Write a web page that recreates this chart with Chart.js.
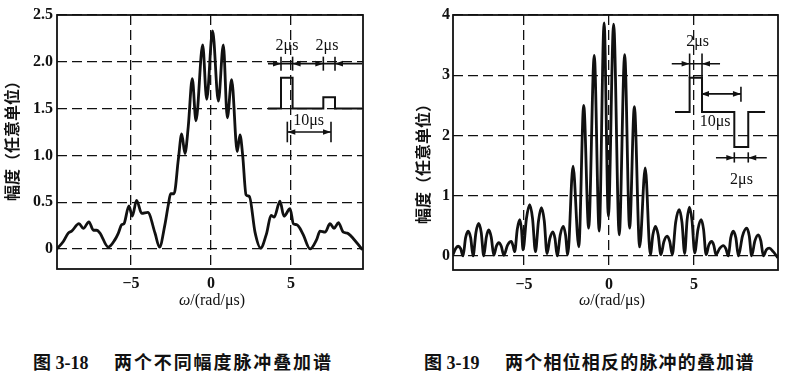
<!DOCTYPE html>
<html><head><meta charset="utf-8">
<script src="https://cdn.jsdelivr.net/npm/chart.js@4/dist/chart.umd.min.js"></script>
<style>
html,body{margin:0;padding:0;background:#fff;}
#wrap{position:relative;width:800px;height:381px;overflow:hidden;background:#fff;}
.box{position:absolute;top:0;width:400px;height:320px;}
.ytitle{position:absolute;font-family:"Noto Sans CJK SC";font-weight:bold;font-size:16px;white-space:nowrap;transform:translate(-50%,-50%) rotate(-90deg);color:#111;line-height:1;}
.xtitle{position:absolute;font-family:"Liberation Serif";font-size:16px;transform:translate(-50%,-50%);white-space:nowrap;color:#111;line-height:1;}
.cap{position:absolute;font-family:"Liberation Serif","Noto Sans CJK SC";font-weight:bold;font-size:18px;white-space:nowrap;transform:translateY(-50%);color:#111;line-height:1;}
</style></head>
<body>
<div id="wrap">
  <div class="box" style="left:0"><canvas id="cA" width="400" height="320"></canvas></div>
  <div class="box" style="left:400px"><canvas id="cB" width="400" height="320"></canvas></div>
  <div class="ytitle" style="left:11px;top:137px">幅度（任意单位）</div>
  <div class="ytitle" style="left:422px;top:160px">幅度（任意单位）</div>
  <div class="xtitle" style="left:212px;top:300px"><i>ω</i>/(rad/μs)</div>
  <div class="xtitle" style="left:612px;top:300px"><i>ω</i>/(rad/μs)</div>
  <div class="cap" style="left:33px;top:363px">图 3-18</div>
  <div class="cap" style="left:114px;top:363px;letter-spacing:1.9px">两个不同幅度脉冲叠加谱</div>
  <div class="cap" style="left:424px;top:363px">图 3-19</div>
  <div class="cap" style="left:505px;top:363px;letter-spacing:1.2px">两个相位相反的脉冲的叠加谱</div>
</div>
<script>
// ---- Fig 3-18: two pulses of different amplitude ----
const omegaA = [-9.64,-9.23,-8.92,-8.71,-8.25,-7.98,-7.63,-7.35,-7.15,-6.94,-6.42,-6.0,-5.79,-5.58,-5.44,-5.13,-4.92,-4.65,-4.33,-3.95,-3.5,-3.22,-2.88,-2.67,-2.52,-2.31,-2.04,-1.83,-1.63,-1.42,-1.17,-0.94,-0.52,-0.27,0.1,0.46,0.77,1.02,1.29,1.64,1.81,1.98,2.19,2.4,2.75,3.1,3.48,3.75,3.95,4.31,4.56,4.94,5.15,5.35,5.56,5.77,6.19,6.6,6.81,7.13,7.44,7.69,7.96,8.27,8.52,8.9,9.42];
const ampA   = [0.0,0.08,0.17,0.19,0.27,0.22,0.29,0.2,0.2,0.17,0.02,0.1,0.17,0.26,0.27,0.46,0.35,0.52,0.38,0.39,0.17,0.02,0.26,0.47,0.59,0.59,0.96,1.23,1.02,1.31,1.82,1.37,2.18,1.60,2.33,1.58,2.18,1.40,1.81,1.04,1.22,1.0,0.58,0.56,0.18,0.01,0.17,0.36,0.34,0.51,0.35,0.43,0.27,0.26,0.22,0.15,0.0,0.1,0.19,0.18,0.27,0.22,0.28,0.18,0.17,0.11,0.0];
const yTicksA = [0,0.5,1,1.5,2,2.5];
const yLabelsA = ['0','0.5','1.0','1.5','2.0','2.5'];

// ---- Fig 3-19: two pulses of opposite phase ----
const omegaB = [-9.18,-9.03,-8.88,-8.73,-8.59,-8.44,-8.29,-8.14,-8.0,-7.83,-7.67,-7.52,-7.37,-7.22,-7.08,-6.93,-6.78,-6.63,-6.49,-6.34,-6.19,-5.97,-5.75,-5.65,-5.55,-5.40,-5.25,-5.15,-5.06,-4.86,-4.67,-4.50,-4.33,-4.15,-3.98,-3.81,-3.65,-3.48,-3.31,-3.18,-3.05,-2.87,-2.69,-2.56,-2.43,
  -2.12,-1.78,-1.49,-1.2,-0.87,-0.58,-0.29,-0.04,0.27,0.6,0.92,1.21,1.49,1.8,2.13,
  2.43,2.58,2.73,2.89,3.05,3.23,3.42,3.57,3.72,3.92,4.13,4.29,4.45,4.59,4.73,4.88,5.04,5.23,5.42,5.56,5.71,5.87,6.04,6.16,6.29,6.5,6.72,6.87,7.02,7.16,7.31,7.46,7.61,7.85,8.1,8.25,8.39,8.58,8.78,8.93,9.08,9.25,9.43,9.66,9.9];
const ampB   = [0.02,0.12,0.16,0.12,0.0,0.30,0.41,0.30,0.0,0.39,0.54,0.39,0.0,0.31,0.43,0.31,0.01,0.16,0.22,0.16,0.01,0.18,0.24,0.17,0.07,0.44,0.6,0.44,0.1,0.62,0.85,0.62,0.07,0.58,0.8,0.58,0.04,0.29,0.4,0.29,0.0,0.35,0.49,0.35,0.02,
  1.49,0.15,2.5,0.46,3.33,0.41,3.87,0.66,3.85,0.35,3.34,0.46,2.48,0.15,1.46,
  0.02,0.35,0.49,0.35,0.02,0.24,0.33,0.24,0.02,0.56,0.77,0.56,0.04,0.59,0.81,0.59,0.05,0.44,0.6,0.44,0.02,0.18,0.24,0.18,0.02,0.12,0.17,0.12,0.0,0.30,0.41,0.30,0.0,0.33,0.46,0.33,0.0,0.25,0.35,0.25,0.0,0.10,0.13,0.07,-0.02];
const yTicksB = [0,1,2,3,4];
const yLabelsB = ['0','1','2','3','4'];

const xTicks = [-5,0,5];
const xLabels = ['\u22125','0','5'];

// ---- inset pulse sketches (in chart data units) ----
const insetA_pulseT = [3.56,4.375,4.375,5.1,5.1,7.02,7.02,7.75,7.75,9.44];
const insetA_pulseV = [1.5,1.5,1.83,1.83,1.5,1.5,1.62,1.62,1.5,1.5];
const insetA_dims = [
  {y:1.98, from:3.56, to:9.44, ticks:[4.375,5.1,7.02,7.75], lo:1.905, hi:2.055, heads:[[4.375,1],[5.1,-1],[7.02,1],[7.75,-1]]},
  {y:1.25, from:4.77, to:7.5, ticks:[4.77,7.5], lo:1.14, hi:1.36, heads:[[4.77,-1],[7.5,1]]}
];
const insetA_labels = [['2μs',4.75,2.17],['2μs',7.25,2.17],['10μs',6.1,1.37]];

const insetB_pulseT = [3.88,4.74,4.74,5.47,5.47,7.37,7.37,8.19,8.19,9.18];
const insetB_pulseV = [2.39,2.39,2.96,2.96,2.39,2.39,1.81,1.81,2.39,2.39];
const insetB_dims = [
  {y:3.19, from:3.69, to:6.53, ticks:[4.74,5.47], lo:2.96, hi:3.36, heads:[[4.74,1],[5.47,-1]]},
  {y:2.69, from:5.41, to:7.76, ticks:[7.76], lo:2.56, hi:2.81, heads:[[5.41,-1],[7.76,1]]},
  {y:1.63, from:6.29, to:9.28, ticks:[7.37,8.19], lo:1.55, hi:1.72, heads:[[7.37,1],[8.19,-1]]}
];
const insetB_labels = [['2μs',5.21,3.55],['10μs',6.24,2.22],['2μs',7.79,1.27]];

const INK = '#111';
const tickFont = {family:'"Liberation Serif"', size:16, weight:'bold'};

const framePlugin = {
  id:'frame',
  afterDatasetsDraw(c){
    const {ctx, chartArea:a} = c;
    ctx.save(); ctx.setLineDash([]); ctx.strokeStyle=INK; ctx.lineWidth=1.8;
    ctx.strokeRect(a.left, a.top, a.right-a.left, a.bottom-a.top);
    ctx.restore();
  }
};

function insetPlugin(pulseT, pulseV, dims, labels){
  return {
    id:'inset',
    afterDatasetsDraw(c){
      const ctx=c.ctx, sx=c.scales.x, sy=c.scales.y;
      const X=v=>sx.getPixelForValue(v), Y=v=>sy.getPixelForValue(v);
      ctx.save(); ctx.setLineDash([]); ctx.strokeStyle=INK; ctx.fillStyle=INK; ctx.lineWidth=2; ctx.lineJoin='miter';
      ctx.beginPath();
      pulseT.forEach((t,i)=>{ if(i===0) ctx.moveTo(X(t),Y(pulseV[i])); else ctx.lineTo(X(t),Y(pulseV[i])); });
      ctx.stroke();
      ctx.lineWidth=1.6;
      dims.forEach(d=>{
        ctx.beginPath(); ctx.moveTo(X(d.from),Y(d.y)); ctx.lineTo(X(d.to),Y(d.y)); ctx.stroke();
        d.ticks.forEach(t=>{ ctx.beginPath(); ctx.moveTo(X(t),Y(d.lo)); ctx.lineTo(X(t),Y(d.hi)); ctx.stroke(); });
        d.heads.forEach(([t,dir])=>{
          const px=X(t), py=Y(d.y);
          ctx.beginPath(); ctx.moveTo(px,py); ctx.lineTo(px-dir*8,py-2.8); ctx.lineTo(px-dir*8,py+2.8); ctx.closePath(); ctx.fill();
        });
      });
      ctx.font='16px "Liberation Serif"'; ctx.textAlign='center'; ctx.textBaseline='middle';
      labels.forEach(([s,x,y])=>{ ctx.fillText(s,X(x),Y(y)); });
      ctx.restore();
    }
  };
}

function makeChart(id, xs, ys, o){
  return new Chart(document.getElementById(id), {
    type:'line',
    data:{datasets:[{
      data: xs.map((x,i)=>({x:x, y:ys[i]})),
      borderColor:INK, borderWidth:2.8, pointRadius:0, fill:false,
      cubicInterpolationMode:'monotone', borderJoinStyle:'round', borderCapStyle:'round'
    }]},
    options:{
      responsive:false, animation:false, devicePixelRatio:1, events:[],
      layout:{padding:{top:15, right:o.padRight, left:0, bottom:0}},
      plugins:{legend:{display:false}, tooltip:{enabled:false}},
      scales:{
        x:{type:'linear', min:o.xmin, max:o.xmax,
           afterBuildTicks:s=>{ s.ticks = xTicks.map(v=>({value:v})); },
           afterFit:s=>{ s.height = o.xh; },
           ticks:{callback:v=>xLabels[xTicks.indexOf(v)], font:tickFont, color:INK, padding:5, maxRotation:0, autoSkip:false},
           grid:{color:INK, lineWidth:1.3, drawTicks:false},
           border:{display:false, dash:[10,5]}},
        y:{type:'linear', min:o.ymin, max:o.ymax,
           afterBuildTicks:s=>{ s.ticks = o.yTicks.map(v=>({value:v})); },
           afterFit:s=>{ s.width = o.yw; },
           ticks:{callback:v=>o.yLabels[o.yTicks.indexOf(v)], font:tickFont, color:INK, padding:o.ypad, autoSkip:false},
           grid:{color:INK, lineWidth:1.3, drawTicks:false},
           border:{display:false, dash:[10,5]}}
      }
    },
    plugins:[framePlugin, o.inset]
  });
}

makeChart('cA', omegaA, ampA, {
  xmin:-9.625, xmax:9.5, ymin:-0.214, ymax:2.5, yTicks:yTicksA, yLabels:yLabelsA,
  padRight:37, xh:51, yw:57, ypad:4,
  inset: insetPlugin(insetA_pulseT, insetA_pulseV, insetA_dims, insetA_labels)
});
makeChart('cB', omegaB, ampB, {
  xmin:-9.18, xmax:9.94, ymin:-0.234, ymax:4.0, yTicks:yTicksB, yLabels:yLabelsB,
  padRight:22, xh:50, yw:53, ypad:3,
  inset: insetPlugin(insetB_pulseT, insetB_pulseV, insetB_dims, insetB_labels)
});
</script>
</body></html>
